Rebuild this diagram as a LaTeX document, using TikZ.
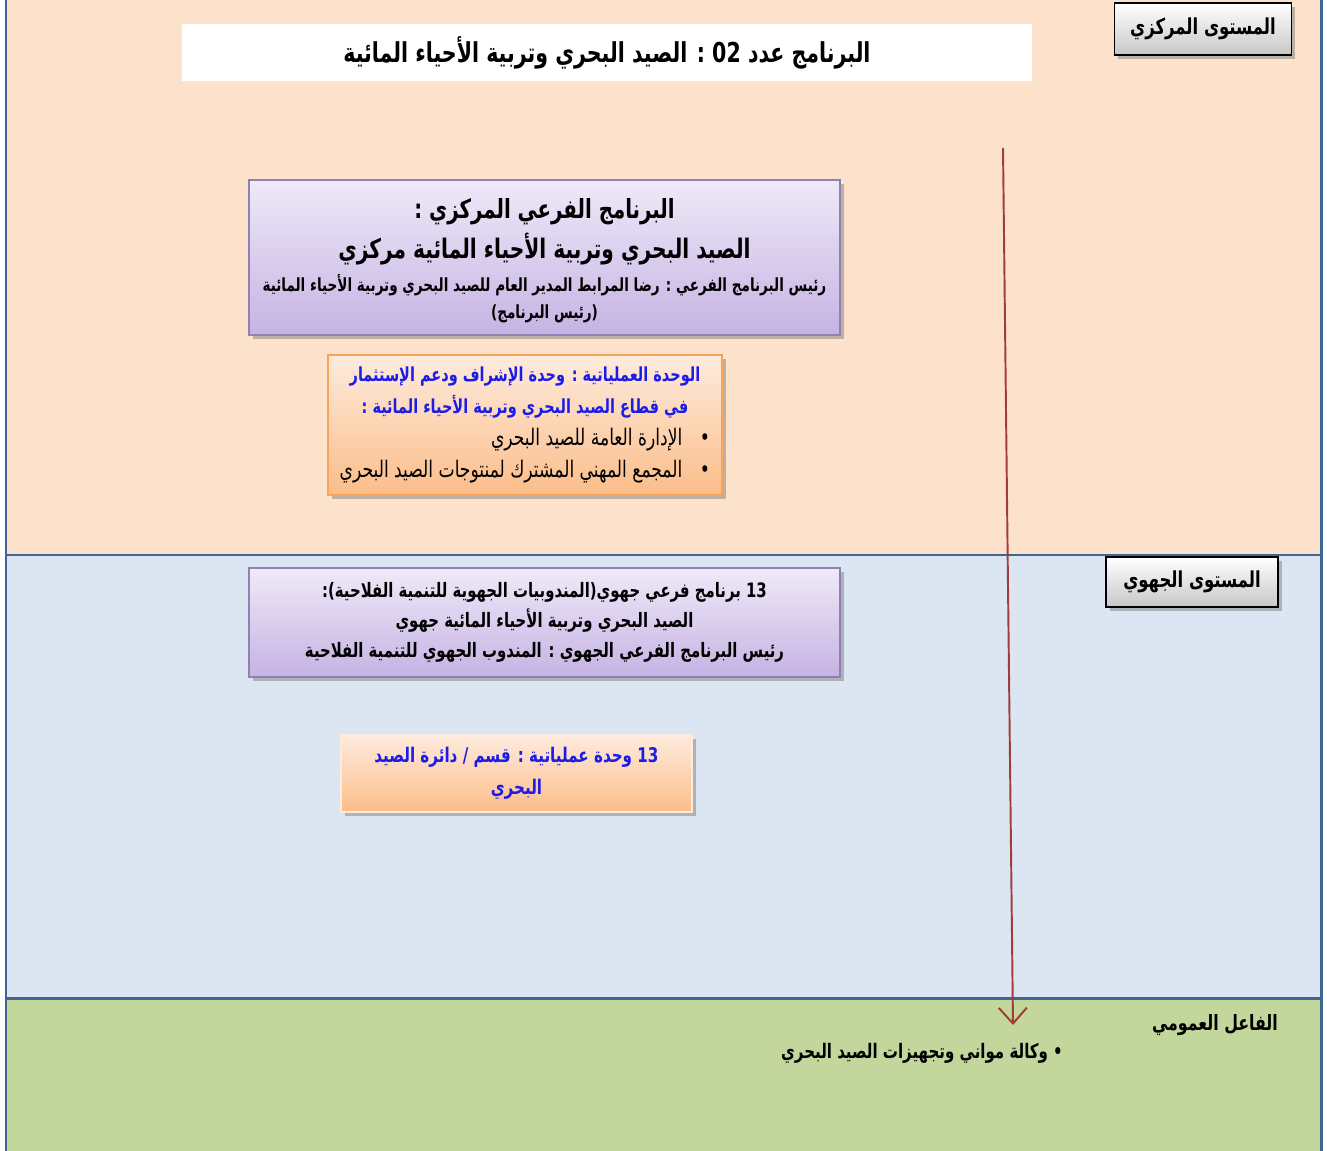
\documentclass[tikz,border=0pt]{standalone}
\usepackage{fontspec}
\newfontfamily\arabicfont[Script=Arabic, FakeStretch=0.75]{DejaVu Sans}
\TeXXeTstate=1
\usetikzlibrary{positioning,shadows,arrows.meta}
\definecolor{peach}{HTML}{FCE1CB}
\definecolor{paleblue}{HTML}{DCE6F2}
\definecolor{palegreen}{HTML}{C3D69B}
\definecolor{bandline}{HTML}{3F6593}
\definecolor{lilac}{HTML}{EFE9F8}
\definecolor{lilacdark}{HTML}{C5B3E3}
\definecolor{lilacline}{HTML}{8F82B2}
\definecolor{apricot}{HTML}{FEEBDD}
\definecolor{apricotdark}{HTML}{FBBD89}
\definecolor{apricotline}{HTML}{F7A35C}
\definecolor{arrowred}{HTML}{A03C3C}
\definecolor{unitblue}{HTML}{1C1CE8}
\newcommand{\rtline}[1]{\beginR #1\endR}
\newcommand{\fixlines}[1]{\baselineskip=#1\lineskiplimit=-100pt\relax}

\begin{document}
\begin{tikzpicture}[x=0.02cm, y=-0.02cm]
            \tikzstyle{level}=[draw=black, thick, top color=white, bottom color=black!22, drop shadow, inner sep=0pt, font=\arabicfont\bfseries\fontsize{12.5}{15}\selectfont];
            \tikzstyle{sub}=[draw=lilacline, thick, top color=lilac, bottom color=lilacdark, drop shadow, inner sep=0pt, align=center];
            \tikzstyle{unit}=[draw=apricotline, thick, top color=apricot, bottom color=apricotdark, drop shadow, inner sep=0pt, align=center];
            \useasboundingbox (0,0) rectangle (1327,1151);

            \fill[peach] (6,0) rectangle (1321,555);
            \fill[paleblue] (6,555) rectangle (1321,998);
            \fill[palegreen] (6,998) rectangle (1321,1151);
            \draw[bandline, line width=1.7pt] (6,0) -- (6,1151) (1321,0) -- (1321,1151) (6,555) -- (1321,555) (6,998) -- (1321,998);

            \node[fill=white, minimum width=17.02cm, minimum height=1.14cm, inner sep=0pt, font=\arabicfont\bfseries\fontsize{15.6}{18}\selectfont] (0) at (607,53) {\rtline{البرنامج عدد 02 : الصيد البحري وتربية الأحياء المائية}};
            \node[level, minimum width=3.54cm, minimum height=1.04cm] (1) at (1203,29) {\rtline{المستوى المركزي}};
            \node[level, minimum width=3.44cm, minimum height=1cm] (2) at (1192,582) {\rtline{المستوى الجهوي}};
            \node[font=\arabicfont\bfseries\fontsize{12}{15}\selectfont] (3) at (1215,1025) {\rtline{الفاعل العمومي}};

            \node[sub, minimum width=11.82cm, minimum height=3.1cm, font=\arabicfont\bfseries\fontsize{10.3}{15.9}\selectfont\fixlines{15.9pt}] (4) at (544.5,257.5) {{\fontsize{15}{22}\selectfont\rule{0pt}{15.2pt}\rtline{البرنامج الفرعي المركزي :}}\\[6.8pt] {\fontsize{15.3}{22}\selectfont\rtline{الصيد البحري وتربية الأحياء المائية مركزي}}\\[2.8pt] \rtline{رئيس البرنامج الفرعي : رضا المرابط المدير العام للصيد البحري وتربية الأحياء المائية}\\ \rtline{(رئيس البرنامج)}};

            \node[unit, minimum width=7.88cm, minimum height=2.8cm, font=\arabicfont\fontsize{13}{18.1}\selectfont\fixlines{18.1pt}] (5) at (525,425) {{\fontsize{11}{18.1}\selectfont\bfseries\color{unitblue}\rtline{الوحدة العملياتية : وحدة الإشراف ودعم الإستثمار}}\\ {\fontsize{11}{18.1}\selectfont\bfseries\color{unitblue}\rtline{في قطاع الصيد البحري وتربية الأحياء المائية :}}\\ \makebox[7.4cm][r]{\rtline{•\hspace{10pt}الإدارة العامة للصيد البحري}}\\ \makebox[7.4cm][r]{\rtline{•\hspace{10pt}المجمع المهني المشترك لمنتوجات الصيد البحري}}};

            \node[sub, minimum width=11.82cm, minimum height=2.18cm, font=\arabicfont\bfseries\fontsize{11.3}{17}\selectfont\fixlines{17pt}] (6) at (544.5,622.5) {\rtline{13 برنامج فرعي جهوي(المندوبيات الجهوية للتنمية الفلاحية):}\\ \rtline{الصيد البحري وتربية الأحياء المائية جهوي}\\ \rtline{رئيس البرنامج الفرعي الجهوي : المندوب الجهوي للتنمية الفلاحية}};

            \node[unit, draw=apricot, minimum width=7.02cm, minimum height=1.54cm, font=\arabicfont\bfseries\fontsize{11.5}{18.1}\selectfont\fixlines{18.1pt}, text=unitblue] (7) at (516.5,773.5) {\rtline{13 وحدة عملياتية : قسم / دائرة الصيد}\\ \rtline{البحري}};

            \node[font=\arabicfont\bfseries\fontsize{11.4}{14}\selectfont] (8) at (922,1053) {\rtline{• وكالة مواني وتجهيزات الصيد البحري}};

            \coordinate (top) at (1003,148);
            \coordinate (bottom) at (1013,1025);
            \draw[arrowred, line width=1.1pt, -{Straight Barb[length=9pt, width=16pt, line width=1.1pt]}] (top) -- (bottom);
        \end{tikzpicture}
\end{document}
